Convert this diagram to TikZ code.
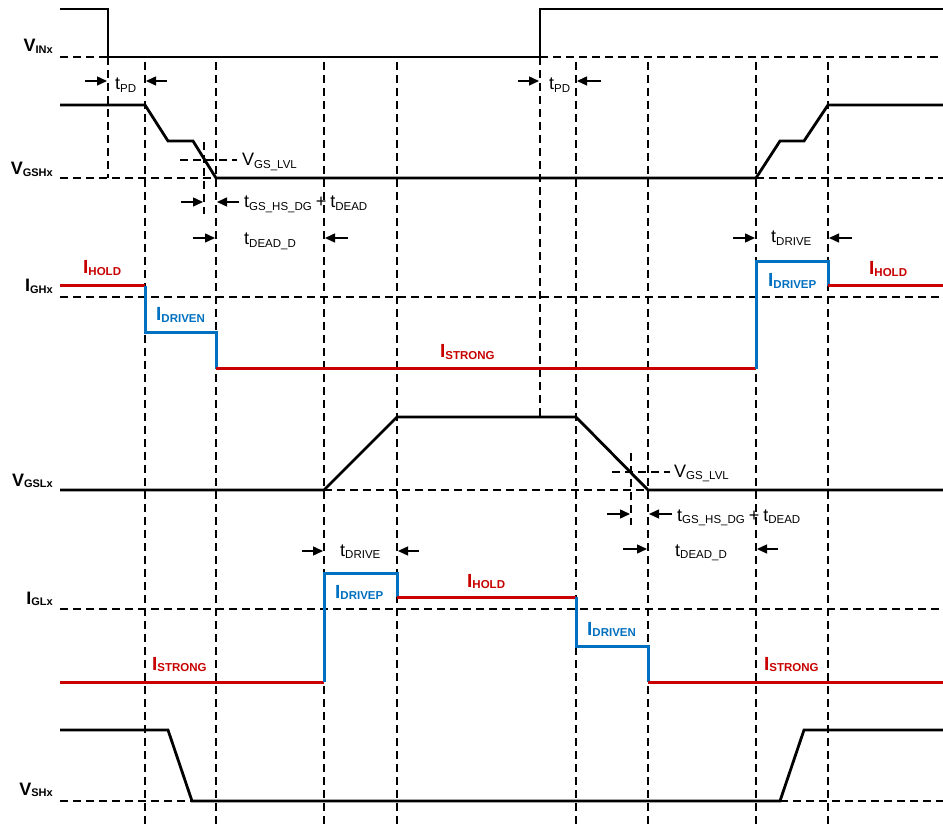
\documentclass[tikz,border=0pt]{standalone}
\usepackage{fontspec}
\setmainfont{Liberation Sans}
\usetikzlibrary{arrows.meta}
\definecolor{tired}{RGB}{200,0,0}
\definecolor{tiblue}{RGB}{0,112,192}
\newcommand\sigl[2]{\textbf{\fontsize{18}{20}\selectfont #1\raisebox{-1.5pt}{\fontsize{11}{12}\selectfont #2}}}
\newcommand\tlab[2]{{\fontsize{18}{20}\selectfont #1\raisebox{-2.6pt}{\fontsize{11.5}{12}\selectfont #2}}}
\newcommand\clab[2]{\textbf{\fontsize{19}{20}\selectfont #1\raisebox{-1.5pt}{\fontsize{11.5}{12}\selectfont #2}}}
\newcommand\plusgap{\hspace{4pt}{\fontsize{18}{20}\selectfont +}\hspace{4pt}}
\begin{document}
\begin{tikzpicture}[x=1pt,y=-1pt,
  grid/.style={line width=1.3pt, dash pattern=on 8pt off 5pt},
  wave/.style={line width=2.8pt, line join=miter},
  holdc/.style={line width=3pt, tired},
  drvc/.style={line width=3pt, tiblue},
  dimarrow/.style={line width=1.4pt, -{Triangle[length=10pt,width=9pt]}},
  lbl/.style={inner sep=0pt, anchor=base west},
  signame/.style={inner sep=0pt, anchor=base east}]
\useasboundingbox (0,0) rectangle (943,826);

% ---------- dashed grid ----------
\foreach \x in {145,216,324,397,576,648,756,828}
  \draw[grid] (\x,62) -- (\x,826);
\draw[grid] (108,57) -- (108,178);
\draw[grid] (540,57) -- (540,417);
\draw[grid] (204,142) -- (204,214);
\draw[grid] (631,453) -- (631,525);
\draw[grid] (60,57) -- (108,57);
\draw[grid] (540,57) -- (943,57);
\draw[grid] (60,178) -- (216,178);
\draw[grid] (756,178) -- (943,178);
\draw[grid] (180,160) -- (237,160);
\draw[grid] (60,297) -- (943,297);
\draw[grid] (324,490) -- (648,490);
\draw[grid] (612,472) -- (670,472);
\draw[grid] (60,609) -- (943,609);
\draw[grid] (60,801) -- (192,801);
\draw[grid] (780,801) -- (943,801);

% ---------- waveforms ----------
\draw[wave] (60,9) -- (108,9) -- (108,57) -- (540,57) -- (540,9) -- (943,9);
\draw[wave] (60,105) -- (145,105) -- (168,141) -- (193,141) -- (216,178) -- (756,178)
  -- (780,141) -- (804,141) -- (828,105) -- (943,105);
\draw[holdc] (60,286) -- (145,286);
\draw[drvc] (145,286) -- (145,333) -- (216,333) -- (216,369);
\draw[holdc] (216,369) -- (756,369);
\draw[drvc] (756,369) -- (756,262) -- (828,262) -- (828,286);
\draw[holdc] (828,286) -- (943,286);
\draw[wave] (60,490) -- (324,490) -- (397,417) -- (576,417) -- (648,490) -- (943,490);
\draw[holdc] (60,682) -- (324,682);
\draw[drvc] (324,682) -- (324,573) -- (397,573) -- (397,597);
\draw[holdc] (397,597) -- (576,597);
\draw[drvc] (576,597) -- (576,646) -- (648,646) -- (648,682);
\draw[holdc] (648,682) -- (943,682);
\draw[wave] (60,730) -- (168,730) -- (192,801) -- (780,801) -- (804,730) -- (943,730);

% ---------- dimension arrows ----------
\draw[dimarrow] (85,81) -- (107,81);
\draw[dimarrow] (167,81) -- (146,81);
\draw[dimarrow] (518,81) -- (539,81);
\draw[dimarrow] (601,81) -- (577,81);
\draw[dimarrow] (181,202) -- (203,202);
\draw[dimarrow] (239,202) -- (217,202);
\draw[dimarrow] (193,238) -- (215,238);
\draw[dimarrow] (348,238) -- (325,238);
\draw[dimarrow] (733,238) -- (755,238);
\draw[dimarrow] (852,238) -- (829,238);
\draw[dimarrow] (607,514) -- (630,514);
\draw[dimarrow] (672,514) -- (649,514);
\draw[dimarrow] (623,549) -- (647,549);
\draw[dimarrow] (778,549) -- (757,549);
\draw[dimarrow] (302,551) -- (323,551);
\draw[dimarrow] (419,551) -- (398,551);

% ---------- signal names ----------
\node[signame] (vin)  at (53,52)  {\sigl{V}{INx}};
\node[signame] (vgsh) at (53,175) {\sigl{V}{GSHx}};
\node[signame] (igh)  at (53,292) {\sigl{I}{GHx}};
\node[signame] (vgsl) at (53,486) {\sigl{V}{GSLx}};
\node[signame] (igl)  at (53,604) {\sigl{I}{GLx}};
\node[signame] (vsh)  at (53,795) {\sigl{V}{SHx}};

% ---------- timing labels ----------
\node[lbl] (tpd1) at (115,90) {\tlab{t}{PD}};
\node[lbl] (tpd2) at (549,90) {\tlab{t}{PD}};
\node[lbl] (vlvl1) at (242,165.5) {\tlab{V}{GS\_LVL}};
\node[lbl] (vlvl2) at (674,477) {\tlab{V}{GS\_LVL}};
\node[lbl] (tgs1) at (244,208) {\tlab{t}{GS\_HS\_DG}\plusgap\tlab{t}{DEAD}};
\node[lbl] (tgs2) at (677,521) {\tlab{t}{GS\_HS\_DG}\plusgap\tlab{t}{DEAD}};
\node[lbl] (tdd1) at (244,245) {\tlab{t}{DEAD\_D}};
\node[lbl] (tdd2) at (675,556) {\tlab{t}{DEAD\_D}};
\node[lbl] (tdr1) at (771,243) {\tlab{t}{DRIVE}};
\node[lbl] (tdr2) at (340,556) {\tlab{t}{DRIVE}};

% ---------- current labels ----------
\node[lbl, text=tired]  (ih1) at (83,274)  {\clab{I}{HOLD}};
\node[lbl, text=tiblue] (idn1) at (156,321) {\clab{I}{DRIVEN}};
\node[lbl, text=tired]  (is1) at (440,358) {\clab{I}{STRONG}};
\node[lbl, text=tiblue] (idp1) at (768,287) {\clab{I}{DRIVEP}};
\node[lbl, text=tired]  (ih2) at (869,275) {\clab{I}{HOLD}};
\node[lbl, text=tiblue] (idp2) at (335,598) {\clab{I}{DRIVEP}};
\node[lbl, text=tired]  (ih3) at (467,587) {\clab{I}{HOLD}};
\node[lbl, text=tiblue] (idn2) at (587,635) {\clab{I}{DRIVEN}};
\node[lbl, text=tired]  (is2) at (152,670) {\clab{I}{STRONG}};
\node[lbl, text=tired]  (is3) at (764,670) {\clab{I}{STRONG}};
\end{tikzpicture}
\end{document}
